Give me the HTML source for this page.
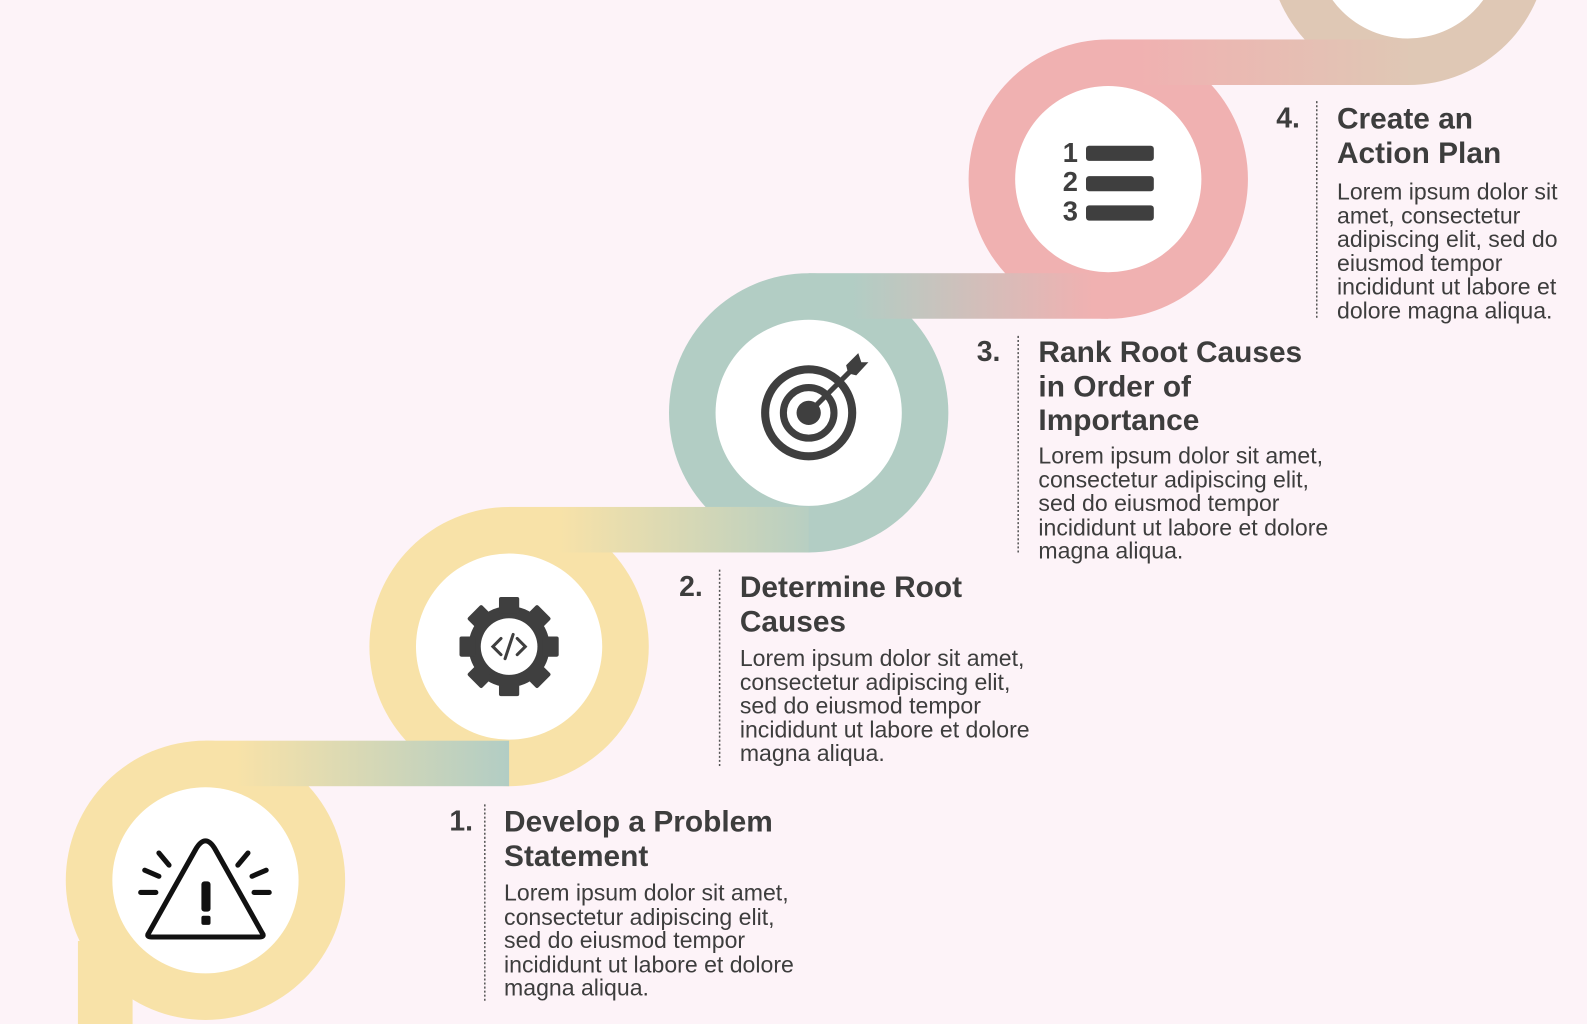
<!DOCTYPE html>
<html><head><meta charset="utf-8"><style>
html,body{margin:0;padding:0;background:#fdf3f8;}
svg{display:block}
.n{font:bold 28px "Liberation Sans",sans-serif;fill:#3d3d3d}
.t{font:bold 29.5px "Liberation Sans",sans-serif;fill:#3d3d3d}
.b{font:22.8px "Liberation Sans",sans-serif;fill:#3d3d3d}
</style></head><body>
<svg width="1587" height="1024" viewBox="0 0 1568 1012" preserveAspectRatio="none" xmlns="http://www.w3.org/2000/svg">
<defs>
<linearGradient id="g1" x1="203" x2="503" y1="0" y2="0" gradientUnits="userSpaceOnUse"><stop offset="0" stop-color="#f8e2a8"/><stop offset="0.1" stop-color="#f8e2a8"/><stop offset="1" stop-color="#b2cdc4"/></linearGradient>
<linearGradient id="g2" x1="503" x2="820" y1="0" y2="0" gradientUnits="userSpaceOnUse"><stop offset="0" stop-color="#f8e2a8"/><stop offset="0.15" stop-color="#f8e2a8"/><stop offset="1" stop-color="#b2cdc4"/></linearGradient>
<linearGradient id="g3" x1="800" x2="1080" y1="0" y2="0" gradientUnits="userSpaceOnUse"><stop offset="0" stop-color="#b2cdc4"/><stop offset="0.15" stop-color="#b2cdc4"/><stop offset="1" stop-color="#f0b1b1"/></linearGradient>
<linearGradient id="g4" x1="1095" x2="1400" y1="0" y2="0" gradientUnits="userSpaceOnUse"><stop offset="0" stop-color="#f0b1b1"/><stop offset="0.1" stop-color="#f0b1b1"/><stop offset="1" stop-color="#dfc8b5"/></linearGradient>
</defs>
<rect width="1568" height="1012" fill="#fdf3f8"/>
<rect x="77" y="930" width="54" height="94" fill="#f8e2a8"/>
<circle cx="203" cy="870" r="138" fill="#f8e2a8"/>
<circle cx="503" cy="639" r="138" fill="#f8e2a8"/>
<circle cx="799" cy="408" r="138" fill="#b2cdc4"/>
<circle cx="1095" cy="177" r="138" fill="#f0b1b1"/>
<circle cx="1391" cy="-54" r="138" fill="#dfc8b5"/>
<rect x="203" y="732" width="300" height="45" fill="url(#g1)"/>
<rect x="503" y="501" width="296" height="45" fill="url(#g2)"/>
<rect x="799" y="270" width="296" height="45" fill="url(#g3)"/>
<rect x="1095" y="39" width="296" height="45" fill="url(#g4)"/>
<circle cx="203" cy="870" r="92" fill="#fff"/>
<circle cx="503" cy="639" r="92" fill="#fff"/>
<circle cx="799" cy="408" r="92" fill="#fff"/>
<circle cx="1095" cy="177" r="92" fill="#fff"/>
<circle cx="1391" cy="-54" r="92" fill="#fff"/>
<g fill="none" stroke="#111" stroke-width="5" stroke-linecap="round" stroke-linejoin="round">
<path d="M193 840 L147 922 Q144 926 150 926 L256 926 Q262 926 259 922 L213 840 Q203 822 193 840Z"/>
<path d="M157 843 L167 855 M143 860 L157 866 M139 882 L154 882 M235 855 L245 843 M249 866 L263 860 M251 882 L266 882"/>
</g>
<rect x="199" y="871" width="9" height="30" rx="3" fill="#111"/>
<rect x="199" y="905" width="9" height="9" rx="2" fill="#111"/>
<g fill="#3f3f3f">
<circle cx="503" cy="639" r="40"/>
<g id="teeth">
<rect x="493" y="590" width="20" height="16" rx="2"/>
<rect x="493" y="672" width="20" height="16" rx="2"/>
<rect x="454" y="629" width="16" height="20" rx="2"/>
<rect x="536" y="629" width="16" height="20" rx="2"/>
</g>
<use href="#teeth" transform="rotate(45 503 639)"/>
</g>
<circle cx="503" cy="639" r="28" fill="#fff"/>
<g fill="none" stroke="#3f3f3f" stroke-width="3" stroke-linecap="round">
<path d="M495 631 L487 639 L495 647 M511 631 L519 639 L511 647 M507 627 L499 651"/>
</g>
<g fill="none" stroke="#3f3f3f">
<circle cx="799" cy="408" r="43" stroke-width="8"/>
<circle cx="799" cy="408" r="25" stroke-width="7"/>
</g>
<circle cx="799" cy="408" r="12" fill="#3f3f3f"/>
<path d="M799 408 L843 364" stroke="#3f3f3f" stroke-width="5"/>
<path d="M836 361 L848 349 L851 358 L858 358 L846 371 L838 369Z" fill="#3f3f3f"/>
<g fill="#3f3f3f">
<rect x="1073" y="144" width="67" height="15" rx="3"/>
<rect x="1073" y="174" width="67" height="15" rx="3"/>
<rect x="1073" y="203" width="67" height="15" rx="3"/>
</g>
<text x="1050" y="160" font-family="Liberation Sans" font-weight="bold" font-size="27" fill="#3f3f3f">1</text>
<text x="1050" y="189" font-family="Liberation Sans" font-weight="bold" font-size="27" fill="#3f3f3f">2</text>
<text x="1050" y="218" font-family="Liberation Sans" font-weight="bold" font-size="27" fill="#3f3f3f">3</text>
<g stroke="#555" stroke-width="1.5" stroke-dasharray="2 2">
<line x1="479" y1="795" x2="479" y2="990"/>
<line x1="711" y1="563" x2="711" y2="757"/>
<line x1="1006" y1="332" x2="1006" y2="547"/>
<line x1="1301" y1="100" x2="1301" y2="315"/>
</g>
<text class="n" x="444" y="821">1.</text>
<text class="t" x="498" y="822">Develop a Problem</text>
<text class="t" x="498" y="856">Statement</text>
<text class="b" x="498" y="890">Lorem ipsum dolor sit amet,</text><text class="b" x="498" y="914">consectetur adipiscing elit,</text><text class="b" x="498" y="937">sed do eiusmod tempor</text><text class="b" x="498" y="961">incididunt ut labore et dolore</text><text class="b" x="498" y="984">magna aliqua.</text>

<text class="n" x="671" y="589">2.</text>
<text class="t" x="731" y="590">Determine Root</text>
<text class="t" x="731" y="624">Causes</text>
<text class="b" x="731" y="658">Lorem ipsum dolor sit amet,</text><text class="b" x="731" y="682">consectetur adipiscing elit,</text><text class="b" x="731" y="705">sed do eiusmod tempor</text><text class="b" x="731" y="729">incididunt ut labore et dolore</text><text class="b" x="731" y="752">magna aliqua.</text>

<text class="n" x="965" y="357">3.</text>
<text class="t" x="1026" y="358">Rank Root Causes</text>
<text class="t" x="1026" y="392">in Order of</text>
<text class="t" x="1026" y="425">Importance</text>
<text class="b" x="1026" y="458">Lorem ipsum dolor sit amet,</text><text class="b" x="1026" y="482">consectetur adipiscing elit,</text><text class="b" x="1026" y="505">sed do eiusmod tempor</text><text class="b" x="1026" y="529">incididunt ut labore et dolore</text><text class="b" x="1026" y="552">magna aliqua.</text>

<text class="n" x="1261" y="126">4.</text>
<text class="t" x="1321" y="127">Create an</text>
<text class="t" x="1321" y="161">Action Plan</text>
<text class="b" x="1321" y="197">Lorem ipsum dolor sit</text><text class="b" x="1321" y="221">amet, consectetur</text><text class="b" x="1321" y="244">adipiscing elit, sed do</text><text class="b" x="1321" y="268">eiusmod tempor</text><text class="b" x="1321" y="291">incididunt ut labore et</text><text class="b" x="1321" y="315">dolore magna aliqua.</text>
</svg>
</body></html>
